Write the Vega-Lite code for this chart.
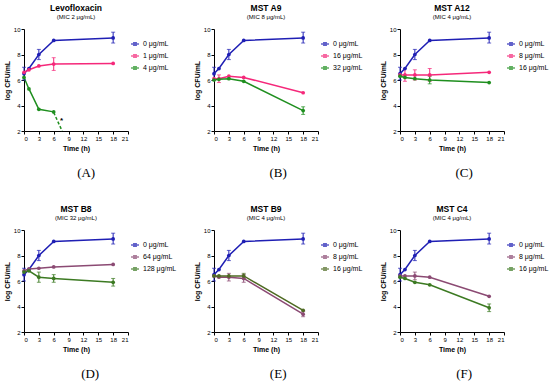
{
"$schema": "https://vega.github.io/schema/vega-lite/v6.json",
"padding": {"left": 3, "top": 3, "right": 0, "bottom": 0},
"columns": 3,
"spacing": {"row": 24, "column": 16},
"resolve": {"scale": {"color": "independent", "x": "independent", "y": "independent"}, "legend": {"color": "independent"}},
"datasets": {
"A": [
{"s":"0 μg/mL","t":0,"v":6.5,"lo":6.0,"hi":7.0},{"s":"0 μg/mL","t":1,"v":6.9},{"s":"0 μg/mL","t":3,"v":8.0,"lo":7.6,"hi":8.4},{"s":"0 μg/mL","t":6,"v":9.1},{"s":"0 μg/mL","t":18,"v":9.3,"lo":8.9,"hi":9.75},
{"s":"1 μg/mL","t":0,"v":6.6},{"s":"1 μg/mL","t":1,"v":6.8},{"s":"1 μg/mL","t":3,"v":7.1},{"s":"1 μg/mL","t":6,"v":7.25,"lo":6.75,"hi":7.75},{"s":"1 μg/mL","t":18,"v":7.3},
{"s":"4 μg/mL","t":0,"v":6.2},{"s":"4 μg/mL","t":1,"v":5.3},{"s":"4 μg/mL","t":3,"v":3.7},{"s":"4 μg/mL","t":6,"v":3.5}
],
"B": [
{"s":"0 μg/mL","t":0,"v":6.5,"lo":6.0,"hi":7.0},{"s":"0 μg/mL","t":1,"v":6.9},{"s":"0 μg/mL","t":3,"v":8.0,"lo":7.6,"hi":8.4},{"s":"0 μg/mL","t":6,"v":9.1},{"s":"0 μg/mL","t":18,"v":9.3,"lo":8.9,"hi":9.75},
{"s":"16 μg/mL","t":0,"v":6.1},{"s":"16 μg/mL","t":1,"v":6.1,"lo":5.8,"hi":6.4},{"s":"16 μg/mL","t":3,"v":6.3},{"s":"16 μg/mL","t":6,"v":6.2},{"s":"16 μg/mL","t":18,"v":5.0},
{"s":"32 μg/mL","t":0,"v":6.0},{"s":"32 μg/mL","t":1,"v":6.05},{"s":"32 μg/mL","t":3,"v":6.1},{"s":"32 μg/mL","t":6,"v":5.9},{"s":"32 μg/mL","t":18,"v":3.6,"lo":3.3,"hi":3.9}
],
"C": [
{"s":"0 μg/mL","t":0,"v":6.5,"lo":6.0,"hi":7.0},{"s":"0 μg/mL","t":1,"v":6.9},{"s":"0 μg/mL","t":3,"v":8.0,"lo":7.6,"hi":8.4},{"s":"0 μg/mL","t":6,"v":9.1},{"s":"0 μg/mL","t":18,"v":9.3,"lo":8.9,"hi":9.75},
{"s":"8 μg/mL","t":0,"v":6.4},{"s":"8 μg/mL","t":1,"v":6.4,"lo":5.9,"hi":6.9},{"s":"8 μg/mL","t":3,"v":6.4,"lo":6.0,"hi":6.8},{"s":"8 μg/mL","t":6,"v":6.4,"lo":5.9,"hi":6.9},{"s":"8 μg/mL","t":18,"v":6.6},
{"s":"16 μg/mL","t":0,"v":6.3},{"s":"16 μg/mL","t":1,"v":6.2},{"s":"16 μg/mL","t":3,"v":6.1},{"s":"16 μg/mL","t":6,"v":6.0,"lo":5.7,"hi":6.3},{"s":"16 μg/mL","t":18,"v":5.8}
],
"D": [
{"s":"0 μg/mL","t":0,"v":6.5,"lo":6.0,"hi":7.0},{"s":"0 μg/mL","t":1,"v":6.9},{"s":"0 μg/mL","t":3,"v":8.0,"lo":7.6,"hi":8.4},{"s":"0 μg/mL","t":6,"v":9.1},{"s":"0 μg/mL","t":18,"v":9.3,"lo":8.9,"hi":9.75},
{"s":"64 μg/mL","t":0,"v":6.8},{"s":"64 μg/mL","t":1,"v":6.95},{"s":"64 μg/mL","t":3,"v":7.0},{"s":"64 μg/mL","t":6,"v":7.1},{"s":"64 μg/mL","t":18,"v":7.3},
{"s":"128 μg/mL","t":0,"v":6.7},{"s":"128 μg/mL","t":1,"v":6.8},{"s":"128 μg/mL","t":3,"v":6.3,"lo":5.9,"hi":6.7},{"s":"128 μg/mL","t":6,"v":6.2,"lo":5.9,"hi":6.5},{"s":"128 μg/mL","t":18,"v":5.9,"lo":5.6,"hi":6.2}
],
"E": [
{"s":"0 μg/mL","t":0,"v":6.5,"lo":6.0,"hi":7.0},{"s":"0 μg/mL","t":1,"v":6.9},{"s":"0 μg/mL","t":3,"v":8.0,"lo":7.6,"hi":8.4},{"s":"0 μg/mL","t":6,"v":9.1},{"s":"0 μg/mL","t":18,"v":9.3,"lo":8.9,"hi":9.75},
{"s":"8 μg/mL","t":0,"v":6.4},{"s":"8 μg/mL","t":1,"v":6.3},{"s":"8 μg/mL","t":3,"v":6.3,"lo":6.0,"hi":6.6},{"s":"8 μg/mL","t":6,"v":6.2,"lo":5.9,"hi":6.5},{"s":"8 μg/mL","t":18,"v":3.4,"lo":3.2,"hi":3.6},
{"s":"16 μg/mL","t":0,"v":6.4},{"s":"16 μg/mL","t":1,"v":6.4},{"s":"16 μg/mL","t":3,"v":6.4},{"s":"16 μg/mL","t":6,"v":6.4,"lo":6.2,"hi":6.6},{"s":"16 μg/mL","t":18,"v":3.7}
],
"F": [
{"s":"0 μg/mL","t":0,"v":6.5,"lo":6.0,"hi":7.0},{"s":"0 μg/mL","t":1,"v":6.9},{"s":"0 μg/mL","t":3,"v":8.0,"lo":7.6,"hi":8.4},{"s":"0 μg/mL","t":6,"v":9.1},{"s":"0 μg/mL","t":18,"v":9.3,"lo":8.9,"hi":9.75},
{"s":"8 μg/mL","t":0,"v":6.4},{"s":"8 μg/mL","t":1,"v":6.4},{"s":"8 μg/mL","t":3,"v":6.4,"lo":6.1,"hi":6.7},{"s":"8 μg/mL","t":6,"v":6.3},{"s":"8 μg/mL","t":18,"v":4.8},
{"s":"16 μg/mL","t":0,"v":6.3},{"s":"16 μg/mL","t":1,"v":6.2},{"s":"16 μg/mL","t":3,"v":5.9},{"s":"16 μg/mL","t":6,"v":5.7},{"s":"16 μg/mL","t":18,"v":3.9,"lo":3.6,"hi":4.2}
]
},
"concat": [
{"title": {"text": "(A)", "orient": "bottom", "anchor": "middle", "frame": "bounds", "font": "Liberation Serif", "fontSize": 13, "fontWeight": "normal", "offset": 16},
 "resolve": {"scale": {"color": "independent"}},
 "vconcat": [{
  "width": 104, "height": 102,
  "title": {"text": "Levofloxacin", "subtitle": "(MIC 2 μg/mL)"},
  "data": {"name": "A"},
  "encoding": {
   "x": {"field": "t", "type": "quantitative", "title": "Time (h)", "scale": {"domain": [0, 21]}, "axis": {"values": [0,3,6,9,12,15,18,21], "tickCount": 8}},
   "color": {"field": "s", "type": "nominal", "scale": {"domain": ["0 μg/mL","1 μg/mL","4 μg/mL"], "range": ["#1f1fb4","#f5287a","#1f8f1f"]}, "legend": {"title": null, "orient": "none", "legendX": 106, "legendY": 10, "symbolType": "M-1,0L1,0M-0.3,-0.3L0.3,-0.3L0.3,0.3L-0.3,0.3Z"}}
  },
  "layer": [
   {"mark": {"type": "line", "strokeWidth": 1.5}, "encoding": {"y": {"field": "v", "type": "quantitative", "title": "log CFU/mL", "scale": {"domain": [2, 10]}, "axis": {"values": [2,4,6,8,10], "tickCount": 5}}}},
   {"transform": [{"filter": "isValid(datum.lo)"}], "mark": {"type": "errorbar", "ticks": {"size": 4, "thickness": 1}, "thickness": 1}, "encoding": {"y": {"field": "lo", "type": "quantitative", "title": "log CFU/mL", "scale": {"domain": [2, 10]}, "axis": {"values": [2,4,6,8,10], "tickCount": 5}}, "y2": {"field": "hi"}}},
   {"data": {"values": [{"s":"4 μg/mL","t":6,"v":3.45},{"s":"4 μg/mL","t":7.7,"v":2.0}]}, "mark": {"type": "line", "strokeWidth": 1.5, "strokeDash": [3, 2]}, "encoding": {"y": {"field": "v", "type": "quantitative", "title": "log CFU/mL", "scale": {"domain": [2, 10]}, "axis": {"values": [2,4,6,8,10], "tickCount": 5}}}},
   {"mark": {"type": "point", "filled": true, "size": 14, "opacity": 1}, "encoding": {"y": {"field": "v", "type": "quantitative", "title": "log CFU/mL", "scale": {"domain": [2, 10]}, "axis": {"values": [2,4,6,8,10], "tickCount": 5}}}},
   {"data": {"values": [{"t": 7.6, "v": 2.75, "lab": "*"}]}, "mark": {"type": "text", "fontSize": 8, "fontWeight": "bold"}, "encoding": {"y": {"field": "v", "type": "quantitative", "title": "log CFU/mL", "scale": {"domain": [2, 10]}, "axis": {"values": [2,4,6,8,10], "tickCount": 5}}, "text": {"field": "lab"}, "color": {"value": "#000"}}}
  ]
 }]
},
{"title": {"text": "(B)", "orient": "bottom", "anchor": "middle", "frame": "bounds", "font": "Liberation Serif", "fontSize": 13, "fontWeight": "normal", "offset": 16},
 "resolve": {"scale": {"color": "independent"}},
 "vconcat": [{
  "width": 104, "height": 102,
  "title": {"text": "MST A9", "subtitle": "(MIC 8 μg/mL)"},
  "data": {"name": "B"},
  "encoding": {
   "x": {"field": "t", "type": "quantitative", "title": "Time (h)", "scale": {"domain": [0, 21]}, "axis": {"values": [0,3,6,9,12,15,18,21], "tickCount": 8}},
   "color": {"field": "s", "type": "nominal", "scale": {"domain": ["0 μg/mL","16 μg/mL","32 μg/mL"], "range": ["#1f1fb4","#f5287a","#1f8f1f"]}, "legend": {"title": null, "orient": "none", "legendX": 106, "legendY": 10, "symbolType": "M-1,0L1,0M-0.3,-0.3L0.3,-0.3L0.3,0.3L-0.3,0.3Z"}}
  },
  "layer": [
   {"mark": {"type": "line", "strokeWidth": 1.5}, "encoding": {"y": {"field": "v", "type": "quantitative", "title": "log CFU/mL", "scale": {"domain": [2, 10]}, "axis": {"values": [2,4,6,8,10], "tickCount": 5}}}},
   {"transform": [{"filter": "isValid(datum.lo)"}], "mark": {"type": "errorbar", "ticks": {"size": 4, "thickness": 1}, "thickness": 1}, "encoding": {"y": {"field": "lo", "type": "quantitative", "title": "log CFU/mL", "scale": {"domain": [2, 10]}, "axis": {"values": [2,4,6,8,10], "tickCount": 5}}, "y2": {"field": "hi"}}},
   {"mark": {"type": "point", "filled": true, "size": 14, "opacity": 1}, "encoding": {"y": {"field": "v", "type": "quantitative", "title": "log CFU/mL", "scale": {"domain": [2, 10]}, "axis": {"values": [2,4,6,8,10], "tickCount": 5}}}}
  ]
 }]
},
{"title": {"text": "(C)", "orient": "bottom", "anchor": "middle", "frame": "bounds", "font": "Liberation Serif", "fontSize": 13, "fontWeight": "normal", "offset": 16},
 "resolve": {"scale": {"color": "independent"}},
 "vconcat": [{
  "width": 104, "height": 102,
  "title": {"text": "MST A12", "subtitle": "(MIC 4 μg/mL)"},
  "data": {"name": "C"},
  "encoding": {
   "x": {"field": "t", "type": "quantitative", "title": "Time (h)", "scale": {"domain": [0, 21]}, "axis": {"values": [0,3,6,9,12,15,18,21], "tickCount": 8}},
   "color": {"field": "s", "type": "nominal", "scale": {"domain": ["0 μg/mL","8 μg/mL","16 μg/mL"], "range": ["#1f1fb4","#f5287a","#1f8f1f"]}, "legend": {"title": null, "orient": "none", "legendX": 106, "legendY": 10, "symbolType": "M-1,0L1,0M-0.3,-0.3L0.3,-0.3L0.3,0.3L-0.3,0.3Z"}}
  },
  "layer": [
   {"mark": {"type": "line", "strokeWidth": 1.5}, "encoding": {"y": {"field": "v", "type": "quantitative", "title": "log CFU/mL", "scale": {"domain": [2, 10]}, "axis": {"values": [2,4,6,8,10], "tickCount": 5}}}},
   {"transform": [{"filter": "isValid(datum.lo)"}], "mark": {"type": "errorbar", "ticks": {"size": 4, "thickness": 1}, "thickness": 1}, "encoding": {"y": {"field": "lo", "type": "quantitative", "title": "log CFU/mL", "scale": {"domain": [2, 10]}, "axis": {"values": [2,4,6,8,10], "tickCount": 5}}, "y2": {"field": "hi"}}},
   {"mark": {"type": "point", "filled": true, "size": 14, "opacity": 1}, "encoding": {"y": {"field": "v", "type": "quantitative", "title": "log CFU/mL", "scale": {"domain": [2, 10]}, "axis": {"values": [2,4,6,8,10], "tickCount": 5}}}}
  ]
 }]
},
{"title": {"text": "(D)", "orient": "bottom", "anchor": "middle", "frame": "bounds", "font": "Liberation Serif", "fontSize": 13, "fontWeight": "normal", "offset": 16},
 "resolve": {"scale": {"color": "independent"}},
 "vconcat": [{
  "width": 104, "height": 102,
  "title": {"text": "MST B8", "subtitle": "(MIC 32 μg/mL)"},
  "data": {"name": "D"},
  "encoding": {
   "x": {"field": "t", "type": "quantitative", "title": "Time (h)", "scale": {"domain": [0, 21]}, "axis": {"values": [0,3,6,9,12,15,18,21], "tickCount": 8}},
   "color": {"field": "s", "type": "nominal", "scale": {"domain": ["0 μg/mL","64 μg/mL","128 μg/mL"], "range": ["#1f1fb4","#8b4a73","#3c7a22"]}, "legend": {"title": null, "orient": "none", "legendX": 106, "legendY": 10, "symbolType": "M-1,0L1,0M-0.3,-0.3L0.3,-0.3L0.3,0.3L-0.3,0.3Z"}}
  },
  "layer": [
   {"mark": {"type": "line", "strokeWidth": 1.5}, "encoding": {"y": {"field": "v", "type": "quantitative", "title": "log CFU/mL", "scale": {"domain": [2, 10]}, "axis": {"values": [2,4,6,8,10], "tickCount": 5}}}},
   {"transform": [{"filter": "isValid(datum.lo)"}], "mark": {"type": "errorbar", "ticks": {"size": 4, "thickness": 1}, "thickness": 1}, "encoding": {"y": {"field": "lo", "type": "quantitative", "title": "log CFU/mL", "scale": {"domain": [2, 10]}, "axis": {"values": [2,4,6,8,10], "tickCount": 5}}, "y2": {"field": "hi"}}},
   {"mark": {"type": "point", "filled": true, "size": 14, "opacity": 1}, "encoding": {"y": {"field": "v", "type": "quantitative", "title": "log CFU/mL", "scale": {"domain": [2, 10]}, "axis": {"values": [2,4,6,8,10], "tickCount": 5}}}}
  ]
 }]
},
{"title": {"text": "(E)", "orient": "bottom", "anchor": "middle", "frame": "bounds", "font": "Liberation Serif", "fontSize": 13, "fontWeight": "normal", "offset": 16},
 "resolve": {"scale": {"color": "independent"}},
 "vconcat": [{
  "width": 104, "height": 102,
  "title": {"text": "MST B9", "subtitle": "(MIC 4 μg/mL)"},
  "data": {"name": "E"},
  "encoding": {
   "x": {"field": "t", "type": "quantitative", "title": "Time (h)", "scale": {"domain": [0, 21]}, "axis": {"values": [0,3,6,9,12,15,18,21], "tickCount": 8}},
   "color": {"field": "s", "type": "nominal", "scale": {"domain": ["0 μg/mL","8 μg/mL","16 μg/mL"], "range": ["#1f1fb4","#8b4a73","#4e6a22"]}, "legend": {"title": null, "orient": "none", "legendX": 106, "legendY": 10, "symbolType": "M-1,0L1,0M-0.3,-0.3L0.3,-0.3L0.3,0.3L-0.3,0.3Z"}}
  },
  "layer": [
   {"mark": {"type": "line", "strokeWidth": 1.5}, "encoding": {"y": {"field": "v", "type": "quantitative", "title": "log CFU/mL", "scale": {"domain": [2, 10]}, "axis": {"values": [2,4,6,8,10], "tickCount": 5}}}},
   {"transform": [{"filter": "isValid(datum.lo)"}], "mark": {"type": "errorbar", "ticks": {"size": 4, "thickness": 1}, "thickness": 1}, "encoding": {"y": {"field": "lo", "type": "quantitative", "title": "log CFU/mL", "scale": {"domain": [2, 10]}, "axis": {"values": [2,4,6,8,10], "tickCount": 5}}, "y2": {"field": "hi"}}},
   {"mark": {"type": "point", "filled": true, "size": 14, "opacity": 1}, "encoding": {"y": {"field": "v", "type": "quantitative", "title": "log CFU/mL", "scale": {"domain": [2, 10]}, "axis": {"values": [2,4,6,8,10], "tickCount": 5}}}}
  ]
 }]
},
{"title": {"text": "(F)", "orient": "bottom", "anchor": "middle", "frame": "bounds", "font": "Liberation Serif", "fontSize": 13, "fontWeight": "normal", "offset": 16},
 "resolve": {"scale": {"color": "independent"}},
 "vconcat": [{
  "width": 104, "height": 102,
  "title": {"text": "MST C4", "subtitle": "(MIC 4 μg/mL)"},
  "data": {"name": "F"},
  "encoding": {
   "x": {"field": "t", "type": "quantitative", "title": "Time (h)", "scale": {"domain": [0, 21]}, "axis": {"values": [0,3,6,9,12,15,18,21], "tickCount": 8}},
   "color": {"field": "s", "type": "nominal", "scale": {"domain": ["0 μg/mL","8 μg/mL","16 μg/mL"], "range": ["#1f1fb4","#8b4a73","#3c7a22"]}, "legend": {"title": null, "orient": "none", "legendX": 106, "legendY": 10, "symbolType": "M-1,0L1,0M-0.3,-0.3L0.3,-0.3L0.3,0.3L-0.3,0.3Z"}}
  },
  "layer": [
   {"mark": {"type": "line", "strokeWidth": 1.5}, "encoding": {"y": {"field": "v", "type": "quantitative", "title": "log CFU/mL", "scale": {"domain": [2, 10]}, "axis": {"values": [2,4,6,8,10], "tickCount": 5}}}},
   {"transform": [{"filter": "isValid(datum.lo)"}], "mark": {"type": "errorbar", "ticks": {"size": 4, "thickness": 1}, "thickness": 1}, "encoding": {"y": {"field": "lo", "type": "quantitative", "title": "log CFU/mL", "scale": {"domain": [2, 10]}, "axis": {"values": [2,4,6,8,10], "tickCount": 5}}, "y2": {"field": "hi"}}},
   {"mark": {"type": "point", "filled": true, "size": 14, "opacity": 1}, "encoding": {"y": {"field": "v", "type": "quantitative", "title": "log CFU/mL", "scale": {"domain": [2, 10]}, "axis": {"values": [2,4,6,8,10], "tickCount": 5}}}}
  ]
 }]
}
],
"config": {
 "font": "Liberation Sans",
 "view": {"stroke": null},
 "axis": {"grid": false, "domainColor": "#000", "domainWidth": 1, "tickColor": "#000", "tickSize": 3, "labelFontSize": 6, "labelColor": "#000", "titleFontSize": 7, "titleFontWeight": "bold", "titleColor": "#000", "labelPadding": 1, "titlePadding": 3, "labelOverlap": false},
 "legend": {"labelFontSize": 7, "labelColor": "#000", "rowPadding": 2, "symbolSize": 64, "symbolStrokeWidth": 1.5, "labelOffset": 3},
 "title": {"fontSize": 8.5, "fontWeight": "bold", "color": "#000", "subtitleFontSize": 6, "subtitleColor": "#000", "subtitlePadding": 2, "offset": 6, "anchor": "middle"}
}
}
